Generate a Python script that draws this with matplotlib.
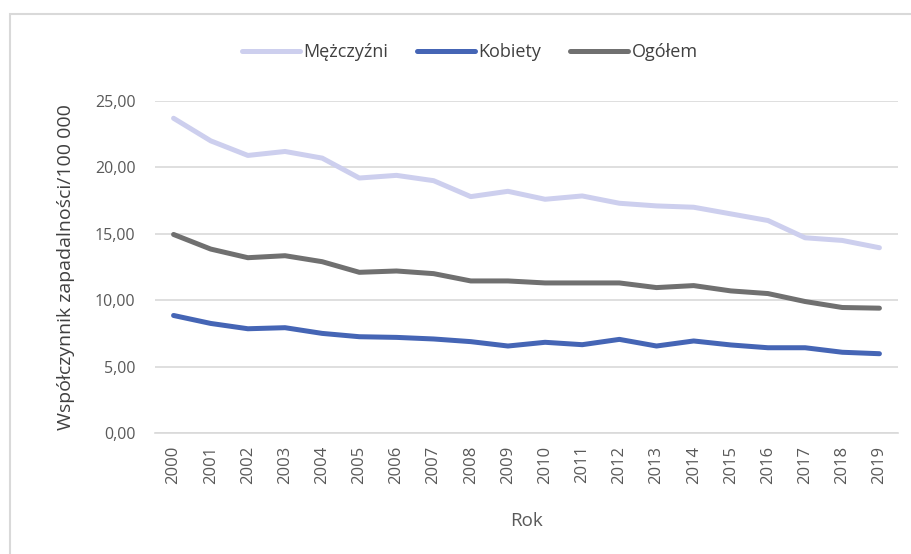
import matplotlib
matplotlib.use("Agg")
import matplotlib.pyplot as plt
from matplotlib.patches import Rectangle
from matplotlib.ticker import FuncFormatter

plt.rcParams['font.family'] = ['Open Sans', 'DejaVu Sans']

years = [str(y) for y in range(2000, 2020)]
mezczyzni = [23.7, 22.0, 20.9, 21.2, 20.7, 19.2, 19.4, 19.0, 17.8, 18.2,
             17.6, 17.85, 17.3, 17.1, 17.0, 16.5, 16.0, 14.7, 14.5, 13.95]
kobiety = [8.85, 8.25, 7.85, 7.93, 7.5, 7.25, 7.2, 7.08, 6.88, 6.55,
           6.83, 6.65, 7.05, 6.55, 6.93, 6.63, 6.42, 6.42, 6.08, 5.97]
ogolem = [14.95, 13.85, 13.2, 13.35, 12.9, 12.1, 12.2, 12.0, 11.45, 11.45,
          11.3, 11.3, 11.3, 10.95, 11.1, 10.7, 10.5, 9.9, 9.45, 9.4]

fig = plt.figure(figsize=(9.12, 5.54), dpi=100)
fig.patch.set_facecolor('white')

# chart-area frame
fig.patches.append(Rectangle((10 / 912, -0.1), 1.0, 1 - 14 / 554 + 0.1,
                             transform=fig.transFigure, fill=False,
                             edgecolor='#d9d9d9', linewidth=1.5))

ax = fig.add_axes([155 / 912, 1 - 433 / 554, (898 - 155) / 912, (433 - 101) / 554])
x = list(range(len(years)))
ax.plot(x, mezczyzni, color='#cdcfee', linewidth=3.6, label='Mężczyźni', solid_capstyle='round')
ax.plot(x, kobiety, color='#4565b5', linewidth=3.6, label='Kobiety', solid_capstyle='round')
ax.plot(x, ogolem, color='#707070', linewidth=3.6, label='Ogółem', solid_capstyle='round')

ax.set_xlim(-0.5, len(years) - 0.5)
ax.set_ylim(0, 25)
ax.set_yticks([0, 5, 10, 15, 20, 25])
ax.yaxis.set_major_formatter(FuncFormatter(lambda v, p: f"{v:.2f}".replace('.', ',')))
ax.set_xticks(x)
ax.set_xticklabels(years, rotation=90)
ax.grid(axis='y', color='#d9d9d9', linewidth=1.2)
ax.set_axisbelow(True)
for s in ['top', 'right', 'left']:
    ax.spines[s].set_visible(False)
ax.spines['bottom'].set_color('#d9d9d9')
ax.spines['bottom'].set_linewidth(1.2)
ax.tick_params(axis='x', length=0, labelsize=12, colors='#595959', pad=9)
ax.tick_params(axis='y', length=0, labelsize=11.5, colors='#595959', pad=14)

ax.set_ylabel('Współczynnik zapadalności/100 000', fontsize=14, color='#404040', labelpad=14)
ax.set_xlabel('Rok', fontsize=13.5, color='#595959', labelpad=20)

fig.legend(loc='center', bbox_to_anchor=(470 / 912, 1 - 52 / 554), ncol=3, frameon=False,
           fontsize=13, handlelength=3.2, handletextpad=0.2, columnspacing=1.6,
           labelcolor='#404040')

fig.savefig('out.png', dpi=100, facecolor='white')
